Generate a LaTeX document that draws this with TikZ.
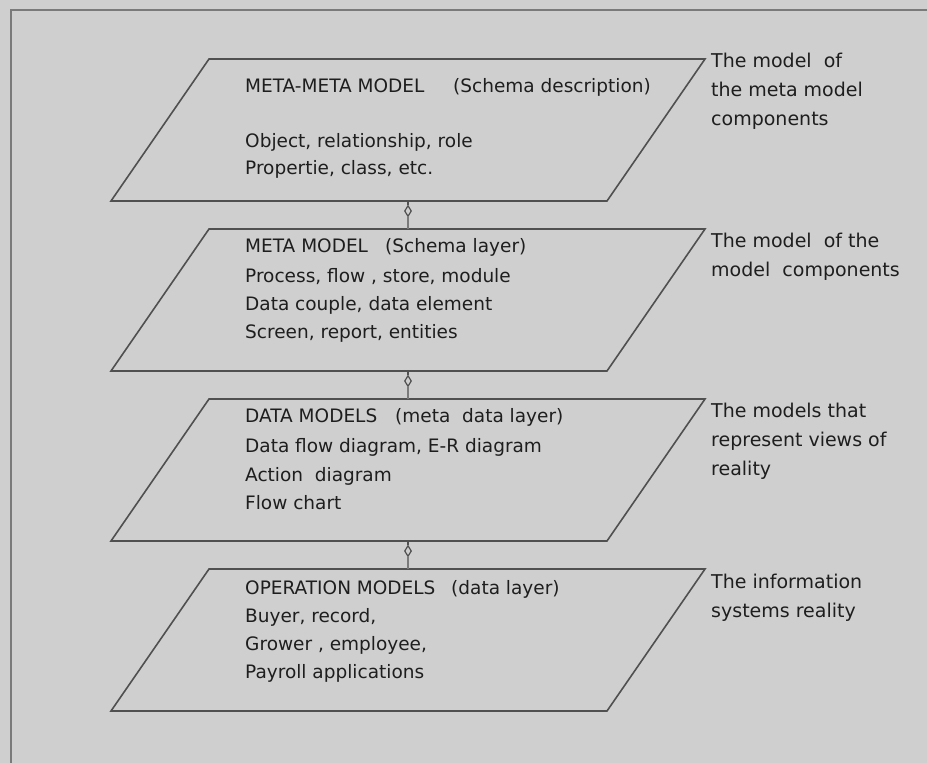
\documentclass[tikz,border=0pt]{standalone}
\usepackage{fontspec}
\setmainfont{DejaVu Sans}
\usetikzlibrary{shapes.geometric,calc}
\definecolor{bg}{HTML}{CFCFCF}
\definecolor{edge}{HTML}{505050}
\definecolor{frame}{HTML}{7A7A7A}
\definecolor{ink}{HTML}{1E1E1E}
\begin{document}
\begin{tikzpicture}[x=1pt,y=-1pt,
  layer/.style={draw=edge, line width=1.6pt, line join=miter},
  body/.style={anchor=base west, inner sep=0pt, text=ink, font=\fontsize{18.5}{22}\selectfont},
  note/.style={anchor=base west, inner sep=0pt, text=ink, font=\fontsize{19}{23}\selectfont},
  link/.style={draw=frame, line width=1.8pt},
  joint/.style={diamond, draw=edge, line width=1.2pt, fill=bg, minimum width=7pt, minimum height=11pt, inner sep=0pt}]

% canvas and frame
\path[fill=bg] (0,0) rectangle (927,763);
\useasboundingbox (0,0) rectangle (927,763);
\draw[frame, line width=2.6pt] (11,763) -- (11,10) -- (927,10);

% the four layers (parallelograms)
\foreach \t/\n in {59/1,229/2,399/3,569/4}{
  \coordinate (tl\n) at (209,\t);
  \coordinate (tr\n) at (705,\t);
  \coordinate (br\n) at (607,\t+142);
  \coordinate (bl\n) at (111,\t+142);
  \coordinate (top\n) at (408,\t);
  \coordinate (bot\n) at (408,\t+142);
  \draw[layer] (tl\n) -- (tr\n) -- (br\n) -- (bl\n) -- cycle;
}

% links between layers
\foreach \a in {1,2,3}{
  \node[joint] (j\a) at ($(bot\a)+(0,10)$) {};
}
\draw[link] (j1.south) -- (top2);
\draw[link] (j2.south) -- (top3);
\draw[link] (j3.south) -- (top4);
\draw[edge, line width=1.2pt] (bot1) -- (j1.north);
\draw[edge, line width=1.2pt] (bot2) -- (j2.north);
\draw[edge, line width=1.2pt] (bot3) -- (j3.north);

% layer 1
\node[body] (h1) at (245,92) {\makebox[208pt][l]{META-META MODEL}(Schema description)};
\node[body] (a1) at (245,147) {Object, relationship, role};
\node[body] (b1) at (245,174) {Propertie, class, etc.};
\node[note] (n1a) at (711,67) {The model\ \ of};
\node[note] (n1b) at (711,96) {the meta model};
\node[note] (n1c) at (711,125) {components};

% layer 2
\node[body] (h2) at (245,252) {\makebox[140pt][l]{META MODEL}(Schema layer)};
\node[body] (a2) at (245,282) {Process, flow , store, module};
\node[body] (b2) at (245,310) {Data couple, data element};
\node[body] (c2) at (245,338) {Screen, report, entities};
\node[note] (n2a) at (711,247) {The model\ \ of the};
\node[note] (n2b) at (711,276) {model\ \ components};

% layer 3
\node[body] (h3) at (245,422) {\makebox[150pt][l]{DATA MODELS}(meta\ \ data layer)};
\node[body] (a3) at (245,452) {Data flow diagram, E-R diagram};
\node[body] (b3) at (245,481) {Action\ \ diagram};
\node[body] (c3) at (245,509) {Flow chart};
\node[note] (n3a) at (711,417) {The models that};
\node[note] (n3b) at (711,446) {represent views of};
\node[note] (n3c) at (711,475) {reality};

% layer 4
\node[body] (h4) at (245,594) {\makebox[206pt][l]{OPERATION MODELS}(data layer)};
\node[body] (a4) at (245,622) {Buyer, record,};
\node[body] (b4) at (245,650) {Grower , employee,};
\node[body] (c4) at (245,678) {Payroll applications};
\node[note] (n4a) at (711,588) {The information};
\node[note] (n4b) at (711,617) {systems reality};
\end{tikzpicture}
\end{document}
